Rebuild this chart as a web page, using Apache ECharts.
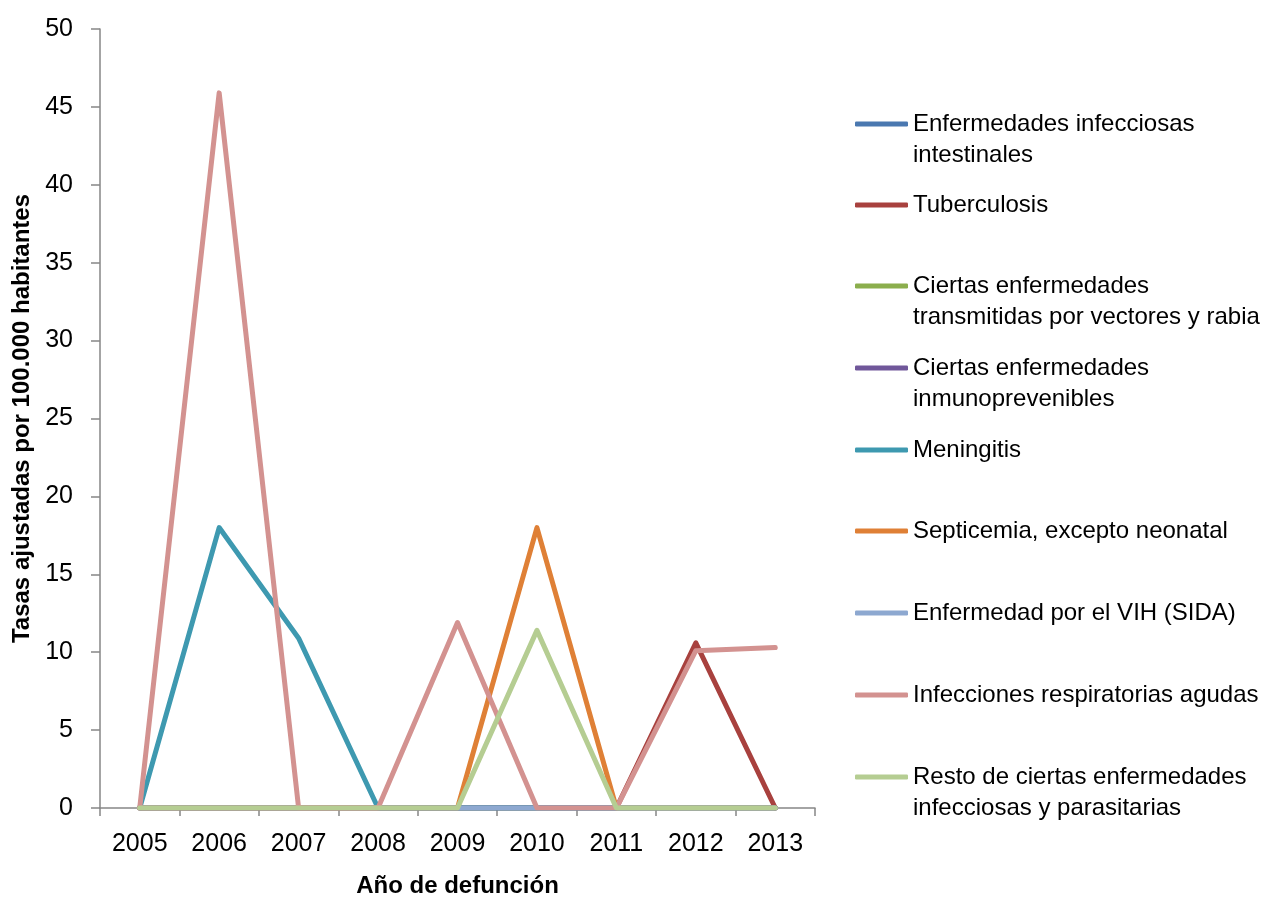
<!DOCTYPE html>
<html>
<head>
<meta charset="utf-8">
<script src="https://cdn.jsdelivr.net/npm/echarts@6/dist/echarts.min.js"></script>
<style>
  html, body { margin: 0; padding: 0; background: #fff; }
  #chart { width: 1265px; height: 897px; }
</style>
</head>
<body>
<div id="chart"></div>
<script>
// Years on the horizontal axis
const years = ['2005', '2006', '2007', '2008', '2009', '2010', '2011', '2012', '2013'];

// Adjusted rates per 100,000 inhabitants, one array per cause of death
const intestinales   = [0, 0, 0, 0, 0, 0, 0, 0, 0];
const tuberculosis   = [0, 0, 0, 0, 0, 0, 0, 10.6, 0];
const vectores       = [0, 0, 0, 0, 0, 0, 0, 0, 0];
const inmunoprev     = [0, 0, 0, 0, 0, 0, 0, 0, 0];
const meningitis     = [0, 18.0, 10.9, 0, 0, 0, 0, 0, 0];
const septicemia     = [0, 0, 0, 0, 0, 18.0, 0, 0, 0];
const vih            = [0, 0, 0, 0, 0, 0, 0, 0, 0];
const respiratorias  = [0, 45.9, 0, 0, 11.9, 0, 0, 10.1, 10.3];
const restoInfecc    = [0, 0, 0, 0, 0, 11.4, 0, 0, 0];

// Series names and the wrapped text used in the legend
const seriesNames = [
  'Enfermedades infecciosas intestinales',
  'Tuberculosis',
  'Ciertas enfermedades transmitidas por vectores y rabia',
  'Ciertas enfermedades inmunoprevenibles',
  'Meningitis',
  'Septicemia, excepto neonatal',
  'Enfermedad por el VIH (SIDA)',
  'Infecciones respiratorias agudas',
  'Resto de ciertas enfermedades infecciosas y parasitarias'
];
const legendLabels = [
  'Enfermedades infecciosas\nintestinales',
  'Tuberculosis',
  'Ciertas enfermedades\ntransmitidas por vectores y rabia',
  'Ciertas enfermedades\ninmunoprevenibles',
  'Meningitis',
  'Septicemia, excepto neonatal',
  'Enfermedad por el VIH (SIDA)',
  'Infecciones respiratorias agudas',
  'Resto de ciertas enfermedades\ninfecciosas y parasitarias'
];
const seriesValues = [intestinales, tuberculosis, vectores, inmunoprev, meningitis,
                      septicemia, vih, respiratorias, restoInfecc];
const seriesColors = ['#4A78B0', '#A8413E', '#8BAE4D', '#70579A', '#3E99B0',
                      '#DF8036', '#8DA8D0', '#D39290', '#B5CD92'];

const FONT = '"Liberation Sans", Arial, sans-serif';
const LINE_H = 31;
// Vertical centre of the first text line of each legend entry
const legendRows = [124, 205, 286, 368, 450, 531, 613, 695, 777];

// Legend text is centred on its icon; two-line entries get a blank leading
// line so that the icon lines up with the first line of text.
const legends = seriesNames.map((name, i) => {
  const label = legendLabels[i];
  const twoLines = label.indexOf('\n') >= 0;
  const shown = twoLines ? '\u200b\n' + label : label;
  const boxH = (twoLines ? 3 : 1) * LINE_H;
  return {
    data: [name],
    left: 855,
    top: legendRows[i] - boxH / 2,
    padding: 0,
    orient: 'vertical',
    icon: 'roundRect',
    itemWidth: 53,
    itemHeight: 5,
    selectedMode: false,
    formatter: () => shown,
    textStyle: {
      fontFamily: FONT,
      fontSize: 24,
      color: '#000',
      lineHeight: LINE_H
    }
  };
});

const chart = echarts.init(document.getElementById('chart'), null, { renderer: 'canvas' });

chart.setOption({
  animation: false,
  backgroundColor: '#fff',
  color: seriesColors,
  grid: { left: 100, right: 450, top: 29, bottom: 89, containLabel: false, outerBoundsMode: 'none' },
  legend: legends,
  xAxis: {
    type: 'category',
    data: years,
    boundaryGap: true,
    name: 'Año de defunción',
    nameLocation: 'middle',
    nameGap: 66,
    nameTextStyle: { fontFamily: FONT, fontSize: 24, fontWeight: 'bold', color: '#000' },
    axisLine: { lineStyle: { color: '#868686', width: 1.5 } },
    axisTick: { show: true, length: 8, alignWithLabel: false, lineStyle: { color: '#868686', width: 1.5 } },
    axisLabel: { fontFamily: FONT, fontSize: 25, color: '#000', margin: 24, interval: 0 },
    splitLine: { show: false }
  },
  yAxis: {
    type: 'value',
    min: 0,
    max: 50,
    interval: 5,
    name: 'Tasas ajustadas por 100.000 habitantes',
    nameLocation: 'middle',
    nameGap: 64,
    nameRotate: 90,
    nameTextStyle: { fontFamily: FONT, fontSize: 24, fontWeight: 'bold', color: '#000' },
    axisLine: { show: true, lineStyle: { color: '#868686', width: 1.5 } },
    axisTick: { show: true, length: 9, lineStyle: { color: '#868686', width: 1.5 } },
    axisLabel: { fontFamily: FONT, fontSize: 25, color: '#000', margin: 27 },
    splitLine: { show: false }
  },
  series: seriesNames.map((name, i) => ({
    name: name,
    type: 'line',
    data: seriesValues[i],
    showSymbol: false,
    symbol: 'none',
    lineStyle: { width: 5, color: seriesColors[i], cap: 'round', join: 'round' },
    itemStyle: { color: seriesColors[i] },
    z: 2 + i
  }))
});
</script>
</body>
</html>
